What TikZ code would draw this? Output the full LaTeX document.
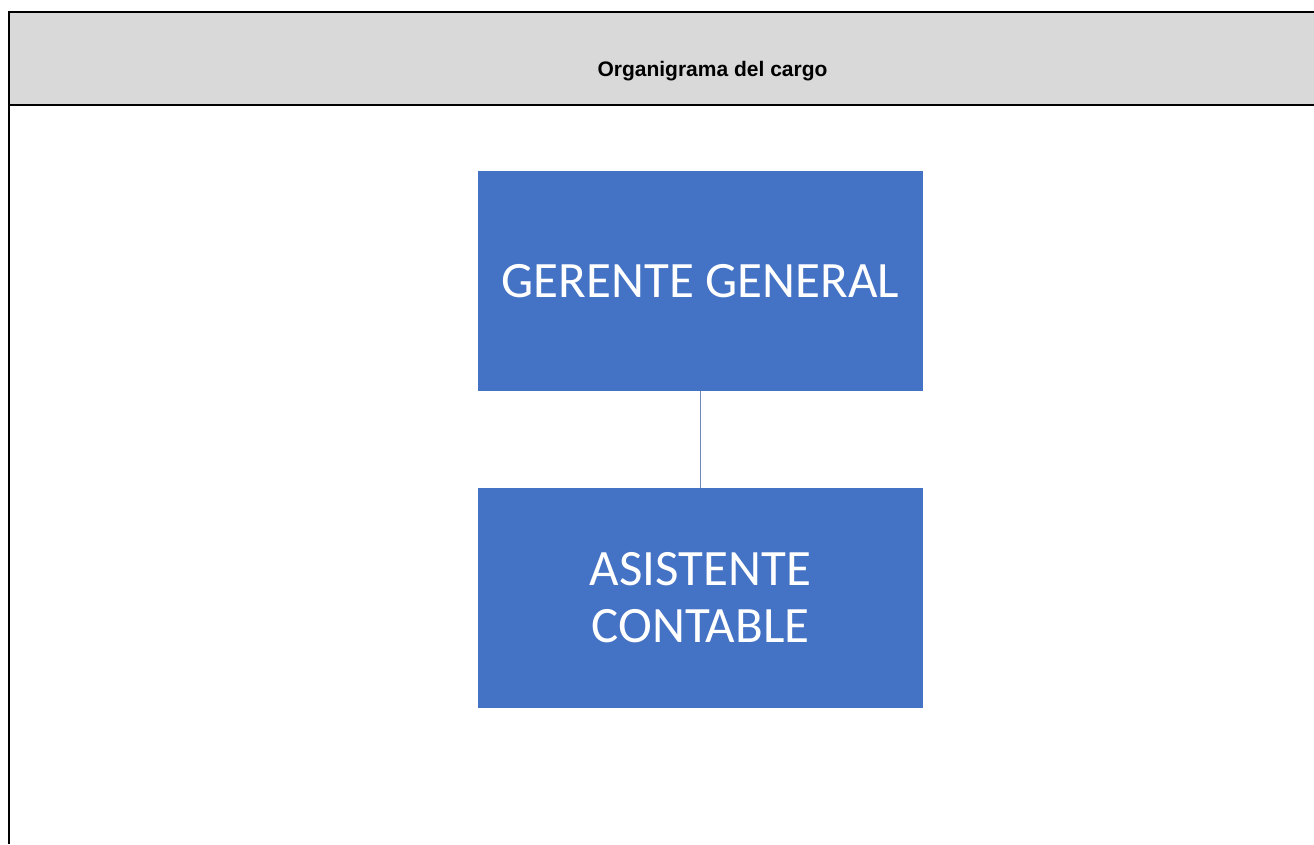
\documentclass[tikz,border=0pt]{standalone}
\usepackage{fontspec}
\setmainfont{Liberation Sans}
\newfontfamily\boxfont{Carlito}
\definecolor{headgray}{HTML}{D9D9D9}
\definecolor{orgblue}{HTML}{4472C4}
\definecolor{linkblue}{HTML}{7088BA}
\begin{document}
\begin{tikzpicture}[x=1pt,y=-1pt,
  frameline/.style={line width=2.4pt,black},
  rolebox/.style={fill=orgblue, draw=none, minimum width=445pt, minimum height=220pt,
    inner sep=0pt, text=white, font=\boxfont\fontsize{51}{57}\selectfont, align=center},
  link/.style={draw=linkblue, line width=1.8pt}]
\useasboundingbox (0,0) rectangle (1314,844);
% header band of the table
\fill[headgray] (9,12) rectangle (1314,105);
\draw[frameline] (1314,12) -- (9,12) -- (9,844);
\draw[frameline] (9,105) -- (1314,105);
\node[font=\bfseries\fontsize{21}{25}\selectfont] (title) at (712.5,71) {Organigrama del cargo};
% organisation chart
\node[rolebox] (gg) at (700.5,281) {GERENTE GENERAL};
\node[rolebox] (ac) at (700.5,598) {ASISTENTE\\CONTABLE};
\draw[link] (gg.south) -- (ac.north);
\end{tikzpicture}
\end{document}
